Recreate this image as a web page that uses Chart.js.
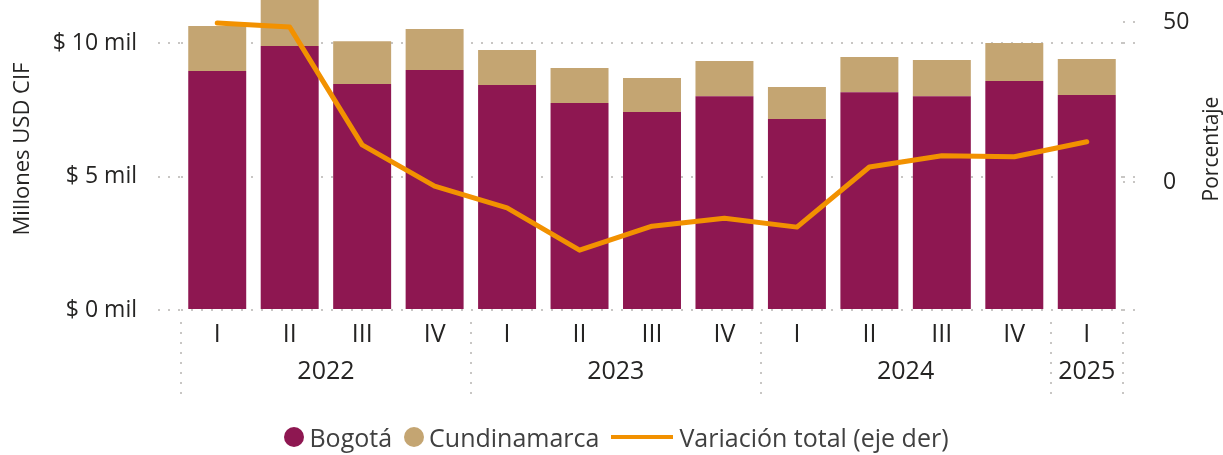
<!DOCTYPE html>
<html>
<head>
<meta charset="utf-8">
<script src="https://cdn.jsdelivr.net/npm/chart.js@4/dist/chart.umd.min.js"></script>
<style>
  html, body { margin: 0; padding: 0; background: #fff; }
  #wrap { position: relative; width: 1223px; height: 455px; overflow: hidden; font-family: "Open Sans", sans-serif; }
  /* plot top sits slightly above the page, like the original export */
  #chart { position: absolute; left: 0; top: -12px; }
  #legend {
    position: absolute; left: 10px; right: 0; top: 420px; height: 34px;
    display: flex; justify-content: center; align-items: center;
    font-size: 25px; color: #404040;
  }
  #legend .item { display: flex; align-items: center; margin: 0 6px; }
  #legend .dot { width: 20px; height: 20px; border-radius: 50%; margin-right: 5px; }
  #legend .line { width: 62px; height: 4px; margin-right: 6px; }
</style>
</head>
<body>
<div id="wrap">
  <canvas id="chart" width="1223" height="467"></canvas>
  <div id="legend"></div>
</div>
<script>
const quarters = ["I", "II", "III", "IV", "I", "II", "III", "IV", "I", "II", "III", "IV", "I"];
const years = ["2022", "2023", "2024", "2025"];
const quartersPerYear = [4, 4, 4, 1];

// millones USD CIF (miles)
const bogota = [8.95, 9.89, 8.46, 8.99, 8.43, 7.75, 7.42, 8.01, 7.15, 8.16, 8.01, 8.58, 8.05];
const cundinamarca = [1.69, 1.75, 1.61, 1.53, 1.31, 1.31, 1.27, 1.32, 1.2, 1.32, 1.35, 1.42, 1.35];
// variacion anual del total, %
const variacion = [49.7, 48.4, 11.6, -1.3, -8.1, -21.3, -13.8, -11.3, -14.1, 4.7, 8.2, 7.9, 12.6];

const leftTicks = [0, 5, 10];
const rightTicks = [0, 50];

const colors = { bogota: "#8E1751", cundinamarca: "#C4A572", variacion: "#F29100" };
const textColor = "#252423";
const dotColor = "#C8C6C4";

// year label sits in the middle of its quarters, separators between years
const yearCenters = [];
const yearBounds = [-0.5];
let start = 0;
quartersPerYear.forEach((n) => {
  yearCenters.push(start + (n - 1) / 2);
  start += n;
  yearBounds.push(start - 0.5);
});

Chart.defaults.font.family = '"Open Sans", sans-serif';

// the label padding chart.js reserves around axes is not wanted here
const noPad = (s) => {
  s.paddingTop = 0;
  s.paddingBottom = 0;
  s.paddingLeft = 0;
  s.paddingRight = 0;
};

const extras = {
  id: "extras",
  afterDraw(chart) {
    const { ctx, chartArea, scales } = chart;
    ctx.save();
    ctx.strokeStyle = dotColor;
    ctx.lineWidth = 2;
    ctx.setLineDash([2, 8]);
    ctx.beginPath();
    yearBounds.forEach((v) => {
      const px = Math.round(scales.x2.getPixelForValue(v));
      ctx.moveTo(px, scales.x.top + 12);
      ctx.lineTo(px, scales.x2.top + 42);
    });
    // left grid runs a bit past the plot on the right
    scales.y.ticks.forEach((t) => {
      const py = Math.round(scales.y.getPixelForValue(t.value));
      ctx.moveTo(chartArea.right, py);
      ctx.lineTo(chartArea.right + 18, py);
    });
    ctx.stroke();

    // right axis title reads bottom to top
    const title = scales.y1.options.title;
    ctx.setLineDash([]);
    ctx.translate(scales.y1.right - 11, (chartArea.top + chartArea.bottom) / 2);
    ctx.rotate(-Math.PI / 2);
    ctx.font = '21px "Open Sans", sans-serif';
    ctx.fillStyle = textColor;
    ctx.textAlign = "center";
    ctx.textBaseline = "middle";
    ctx.fillText(title.text, 0, 0);
    ctx.restore();
  },
};

const chart = new Chart(document.getElementById("chart"), {
  type: "bar",
  data: {
    labels: quarters,
    datasets: [
      {
        label: "Bogotá",
        data: bogota,
        backgroundColor: colors.bogota,
        yAxisID: "y",
        order: 1,
        barPercentage: 0.8,
        categoryPercentage: 1,
      },
      {
        label: "Cundinamarca",
        data: cundinamarca,
        backgroundColor: colors.cundinamarca,
        yAxisID: "y",
        order: 1,
        barPercentage: 0.8,
        categoryPercentage: 1,
      },
      {
        type: "line",
        label: "Variación total (eje der)",
        data: variacion,
        yAxisID: "y1",
        borderColor: colors.variacion,
        backgroundColor: colors.variacion,
        borderWidth: 5,
        borderCapStyle: "round",
        borderJoinStyle: "round",
        pointRadius: 0,
        tension: 0,
        order: 0,
      },
    ],
  },
  options: {
    responsive: false,
    animation: false,
    layout: { padding: 0 },
    plugins: { legend: { display: false }, tooltip: { enabled: false } },
    scales: {
      x: {
        stacked: true,
        grid: { display: false, drawTicks: false },
        border: { display: false },
        ticks: { padding: 10, color: textColor, font: { size: 25 } },
        afterFit: (s) => { noPad(s); s.height = 45; },
      },
      x2: {
        type: "linear",
        position: "bottom",
        offset: false,
        min: -0.5,
        max: 12.5,
        grid: { display: false, drawTicks: false, offset: false },
        border: { display: false },
        afterBuildTicks: (s) => { s.ticks = yearCenters.map((v) => ({ value: v })); },
        ticks: { padding: 2, autoSkip: false, maxRotation: 0, color: textColor, font: { size: 25 }, callback: (v, i) => years[i] },
        afterFit: (s) => { noPad(s); s.height = 100; },
      },
      y: {
        stacked: true,
        min: 0,
        max: 12.06,
        afterBuildTicks: (s) => { s.ticks = leftTicks.map((v) => ({ value: v })); },
        ticks: { padding: 21, color: textColor, font: { size: 23 }, callback: (v) => "$ " + v + " mil" },
        grid: { color: dotColor, lineWidth: 2, tickLength: 23, tickBorderDash: [2, 8], tickColor: dotColor },
        border: { display: false, dash: [2, 8] },
        title: { display: true, text: "Millones USD CIF", color: textColor, font: { size: 22 }, padding: { top: 10, bottom: 0 } },
        afterFit: (s) => { noPad(s); s.width = 181; },
      },
      y1: {
        position: "right",
        min: -40,
        max: 60.625,
        afterBuildTicks: (s) => { s.ticks = rightTicks.map((v) => ({ value: v })); },
        ticks: { padding: 20, color: textColor, font: { size: 23 } },
        grid: { drawOnChartArea: false, color: dotColor, lineWidth: 2, tickLength: 20, tickBorderDash: [2, 8], tickColor: dotColor },
        border: { display: false },
        title: { display: false, text: "Porcentaje" },
        afterFit: (s) => { noPad(s); s.width = 100; },
      },
    },
  },
  plugins: [extras],
});

// legend under the chart, built from the datasets
const legend = document.getElementById("legend");
chart.data.datasets.forEach((ds) => {
  const item = document.createElement("span");
  item.className = "item";
  const mark = document.createElement("span");
  if (ds.type === "line") {
    mark.className = "line";
    mark.style.background = ds.borderColor;
  } else {
    mark.className = "dot";
    mark.style.background = ds.backgroundColor;
  }
  const label = document.createElement("span");
  label.textContent = ds.label;
  item.appendChild(mark);
  item.appendChild(label);
  legend.appendChild(item);
});
</script>
</body>
</html>
